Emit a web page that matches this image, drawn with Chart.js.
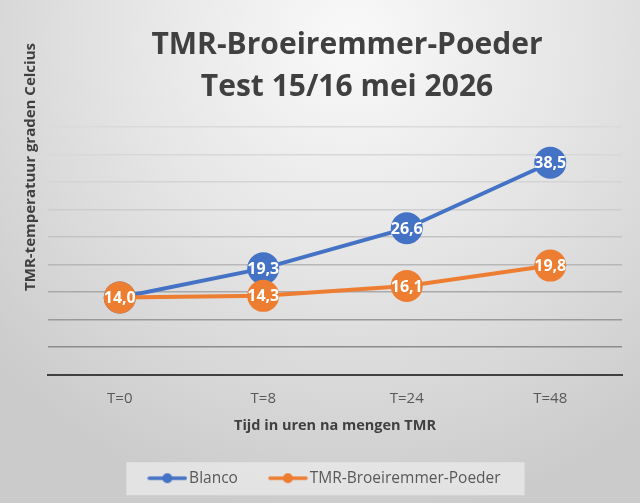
<!DOCTYPE html>
<html>
<head>
<meta charset="utf-8">
<script src="https://cdn.jsdelivr.net/npm/chart.js@4.4.1/dist/chart.umd.min.js"></script>
<style>
  html, body { margin: 0; padding: 0; }
  body {
    width: 640px; height: 503px; overflow: hidden;
    background: radial-gradient(ellipse 75% 95% at 55% 8%, #f9f9f9 0%, #e6e6e6 45%, #cbcbcb 100%);
  }
  #wrap { position: relative; width: 640px; height: 503px; }
</style>
</head>
<body>
<div id="wrap"><canvas id="myChart"></canvas></div>
<script>
// データ
const categories = ["T=0", "T=8", "T=24", "T=48"];
const blancoValues = [14.0, 19.3, 26.6, 38.5];
const poederValues = [14.0, 14.3, 16.1, 19.8];
const seriesNames = ["Blanco", "TMR-Broeiremmer-Poeder"];
const chartTitle = ["TMR-Broeiremmer-Poeder", "Test 15/16 mei 2026"];
const xTitle = "Tijd in uren na mengen TMR";
const yTitle = "TMR-temperatuur graden Celcius";

const BLUE = "#4472C4";
const ORANGE = "#ED7D31";
const FONT = "'Open Sans', 'Noto Sans', sans-serif";

// 凡例のマーカー（線＋丸）
function legendMarker(color) {
  const c = document.createElement("canvas");
  c.width = 40;
  c.height = 12;
  const g = c.getContext("2d");
  g.strokeStyle = color;
  g.lineWidth = 3.5;
  g.lineCap = "round";
  g.beginPath();
  g.moveTo(2, 6);
  g.lineTo(38, 6);
  g.stroke();
  g.fillStyle = color;
  g.beginPath();
  g.arc(20, 6, 5, 0, Math.PI * 2);
  g.fill();
  return c;
}

// データラベル
const valueLabels = {
  id: "valueLabels",
  afterDatasetDraw(chart, args) {
    const ctx = chart.ctx;
    const ds = chart.data.datasets[args.index];
    ctx.save();
    ctx.font = "bold 16px " + FONT;
    ctx.fillStyle = "#ffffff";
    ctx.textAlign = "center";
    ctx.textBaseline = "middle";
    args.meta.data.forEach((pt, i) => {
      ctx.fillText(ds.data[i].toFixed(1).replace(".", ","), pt.x, pt.y + 1);
    });
    ctx.restore();
  },
};

// タイトル・凡例位置の調整、凡例の背景と縦軸タイトル
const extras = {
  id: "extras",
  afterLayout(chart) {
    if (chart.titleBlock) {
      chart.titleBlock.left += 12;
      chart.titleBlock.right += 12;
    }
    if (chart.legend) {
      chart.legend.left -= 8;
      chart.legend.right -= 8;
    }
  },
  beforeDraw(chart) {
    const ctx = chart.ctx;
    const boxes = chart.legend.legendHitBoxes;
    if (boxes && boxes.length) {
      const first = boxes[0];
      const last = boxes[boxes.length - 1];
      const cy = first.top + first.height / 2;
      ctx.save();
      ctx.fillStyle = "rgba(236,236,236,0.7)";
      const l = first.left - 27;
      ctx.fillRect(l, cy - 16, last.left + last.width + 24 - l, 33);
      ctx.restore();
    }
    ctx.save();
    ctx.translate(31, 167);
    ctx.rotate(-Math.PI / 2);
    ctx.font = "bold 15px " + FONT;
    ctx.fillStyle = "#404040";
    ctx.textAlign = "center";
    ctx.textBaseline = "middle";
    ctx.fillText(yTitle, 0, 0);
    ctx.restore();
  },
};

const gridColors = ["rgba(0,0,0,0)", "#8c8c8c", "#999999", "#a9a9a9", "#b7b7b7",
  "#c3c3c3", "#cdcdcd", "#d4d4d4", "#d8d8d8", "#dadada"];

const chart = new Chart(document.getElementById("myChart"), {
  type: "line",
  data: {
    labels: categories,
    datasets: [
      {
        label: seriesNames[0],
        data: blancoValues,
        borderColor: BLUE,
        backgroundColor: BLUE,
        borderWidth: 4,
        pointRadius: 16,
        pointHoverRadius: 16,
        pointBorderWidth: 0,
        pointStyle: "circle",
        tension: 0,
        order: 1,
      },
      {
        label: seriesNames[1],
        data: poederValues,
        borderColor: ORANGE,
        backgroundColor: ORANGE,
        borderWidth: 4,
        pointRadius: 16,
        pointHoverRadius: 16,
        pointBorderWidth: 0,
        pointStyle: "circle",
        tension: 0,
        order: 0,
      },
    ],
  },
  options: {
    responsive: true,
    maintainAspectRatio: false,
    animation: false,
    layout: { padding: { left: 48, right: 18, top: 0, bottom: 7 } },
    plugins: {
      title: {
        display: true,
        text: chartTitle,
        color: "#404040",
        font: { family: FONT, size: 30, weight: "bold", lineHeight: 1.4 },
        padding: { top: 24, bottom: 19 },
      },
      legend: {
        display: true,
        position: "bottom",
        labels: {
          color: "#595959",
          font: { family: FONT, size: 15.5 },
          usePointStyle: true,
          pointStyleWidth: 28,
          padding: 36,
          sort: (a, b) => a.datasetIndex - b.datasetIndex,
          generateLabels(chart) {
            return chart.data.datasets.map((ds, i) => ({
              text: ds.label,
              fontColor: "#595959",
              pointStyle: legendMarker(ds.borderColor),
              lineWidth: 0,
              strokeStyle: "rgba(0,0,0,0)",
              fillStyle: ds.borderColor,
              datasetIndex: i,
              hidden: false,
            }));
          },
        },
      },
      tooltip: { enabled: false },
    },
    scales: {
      x: {
        offset: true,
        grid: { display: false, drawTicks: false },
        border: { display: true, color: "#404040", width: 2 },
        ticks: {
          color: "#595959",
          font: { family: FONT, size: 15 },
          padding: 15,
        },
        title: {
          display: true,
          text: xTitle,
          color: "#404040",
          font: { family: FONT, size: 14.5, weight: "bold" },
          padding: { top: 0, bottom: 0 },
        },
        afterFit(scale) {
          scale.height = 60;
        },
      },
      y: {
        min: 0,
        max: 45,
        ticks: { display: false, stepSize: 5 },
        grid: {
          drawTicks: false,
          lineWidth: 1.5,
          color: (c) => gridColors[c.index] || "#d8d8d8",
        },
        border: { display: false },
      },
    },
  },
  plugins: [valueLabels, extras],
});
</script>
</body>
</html>
